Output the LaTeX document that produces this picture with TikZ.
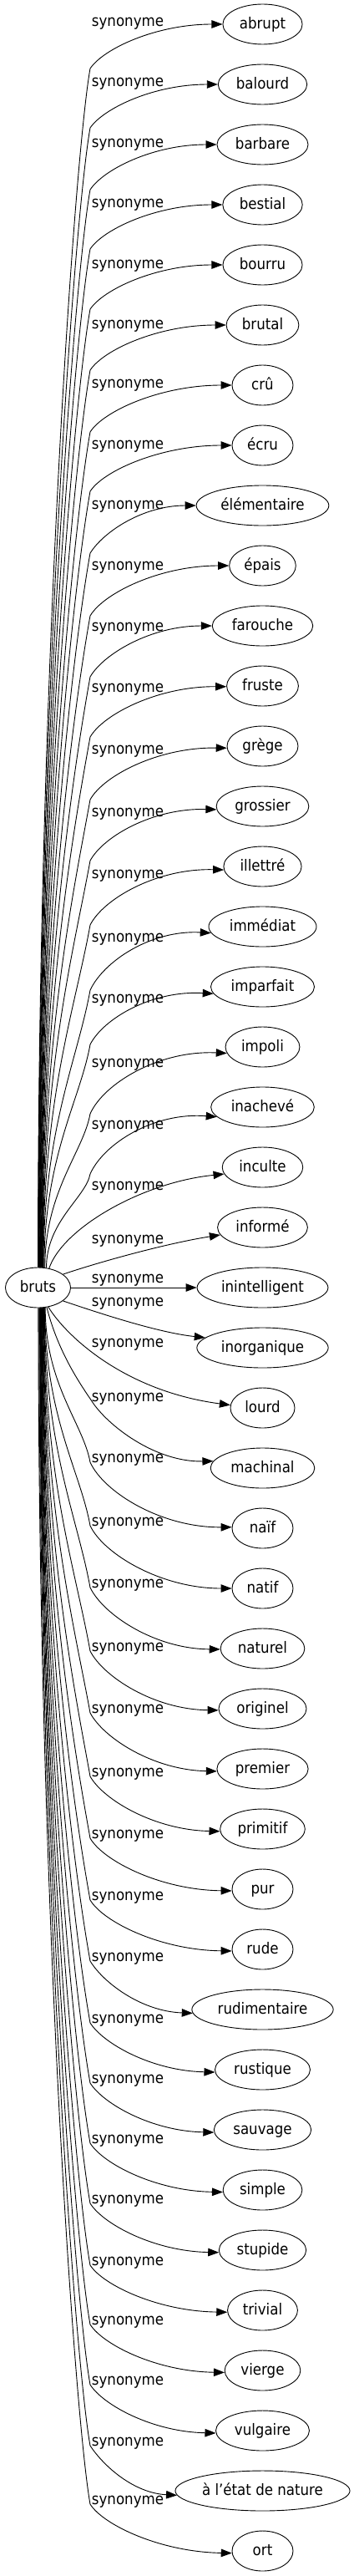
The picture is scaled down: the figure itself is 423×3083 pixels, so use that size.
\documentclass[tikz,border=0pt]{standalone}
\usepackage{fontspec}
\setmainfont{DejaVu Sans}[FakeStretch=0.9]
\usetikzlibrary{arrows.meta,calc,shapes.geometric}
\tikzset{
  gfont/.style={font=\fontsize{18.5pt}{22pt}\selectfont},
  tnode/.style={gfont, ellipse, draw, line width=0.9pt, inner xsep=6pt, inner ysep=2pt,
    minimum width=73pt, minimum height=48pt, text height=15pt, text depth=4.5pt},
  lab/.style={gfont, anchor=base, inner sep=0pt},
  link/.style={draw, line width=0.9pt, -{Triangle[length=13pt,width=9.5pt]}},
}
\begin{document}
\begin{tikzpicture}[x=1pt,y=-1pt]
\fill[white] (0,0) rectangle (423,3083);
\useasboundingbox (0,0) rectangle (423,3083);
\node[tnode] (bruts) at (45.5,1541) {bruts};
\foreach \txt/\xs [count=\i] in {abrupt/6, balourd/6, barbare/6, bestial/6, bourru/6, brutal/6, crû/6, écru/6, élémentaire/6, épais/6, farouche/6, fruste/6, grège/6, grossier/6, illettré/6, immédiat/6, imparfait/6, impoli/6, inachevé/6, inculte/6, informé/6, inintelligent/6, inorganique/6, lourd/6, machinal/6, naïf/6, natif/6, naturel/6, originel/6, premier/6, primitif/6, pur/6, rude/6, rudimentaire/6, rustique/6, sauvage/6, simple/6, stupide/6, trivial/6, vierge/6, vulgaire/6, à l'état de nature/1.5, ort/6}{
  \node[tnode, inner xsep=\xs pt] (t\i) at (314.5,{29+72*(\i-1)}) {\txt};
}
\foreach \ly [count=\i] in {27,99,171,243,316,388,459,532,604,677,750,823,897,972,1046,1122,1195,1272,1346,1419,1483,1530,1558,1607,1672,1745,1821,1895,1971,2045,2121,2195,2269,2342,2416,2488,2560,2632,2706,2777,2849,2922,2992}{
  \node[lab] (l\i) at (153,{\ly+5}) {synonyme};
}
% upper edges
\foreach \nm/\ang/\bend/\tyy/\ea in {1/90/82/29/180, 2/89/153/101/180, 3/88/227/173/180, 4/87/298/245/180, 5/86/370/317/180, 6/85/443/389/180, 7/84/517/461/180, 8/83/588/533/180, 9/82/662/605/180, 10/81/737/677/180, 11/80/810/749/180, 12/79/882/821/181, 13/78/957/893/183, 14/77/1030/965/184, 15/76/1107/1037/185, 16/75/1185/1109/187, 17/73/1250/1181/188, 18/71/1333/1253/190, 19/67/1405/1325/192}{
  \pgfmathsetmacro\len{1517-\bend}
  \pgfmathsetmacro\mm{min(100,0.25*\len)}
  \pgfmathsetmacro\cx{108-0.18*\mm}
  \pgfmathsetmacro\cy{\bend+\mm}
  \pgfmathsetmacro\dy{0.55*\bend+0.45*\tyy}
  \draw[link] (bruts.\ang) .. controls ($(bruts.\ang)+(0,{-\len/2})$) and (\cx,\cy) .. (108,\bend)
     .. controls (124,\dy) and ($(t\nm.\ea)!0.5!(108,\tyy)$) .. (t\nm.\ea);
}
% middle edges
\draw[link] (bruts.60) .. controls (75,1470) and (170,1415) .. (t20.190);
\draw[link] (bruts.28) .. controls (120,1510) and (200,1488) .. (t21.190);
\draw[link] (bruts.east) -- (t22.west);
\draw[link] (bruts.-28) .. controls (120,1572) and (190,1595) .. (t23.170);
\draw[link] (bruts.-62) .. controls (80,1600) and (150,1665) .. (t24.175);
\draw[link] (bruts.-66) .. controls (70,1620) and (98,1659) .. (110,1677) .. controls (128,1705) and (185,1750) .. (t25.172);
% lower edges
\foreach \nm/\ang/\bend/\tyy/\ea in {26/-70/1750/1829/178, 27/-71/1826/1901/180, 28/-72/1900/1973/181, 29/-73/1976/2045/182, 30/-74/2050/2117/183, 31/-75/2126/2189/183, 32/-76/2200/2261/183, 33/-77/2274/2333/183, 34/-78/2347/2405/183, 35/-79/2421/2477/183, 36/-80/2493/2549/183, 37/-81/2565/2621/183, 38/-82/2637/2693/183, 39/-83/2711/2765/183, 40/-84/2782/2837/183, 41/-85/2854/2909/183, 42/-87/2927/2981/183, 43/-89/2997/3053/184}{
  \pgfmathsetmacro\len{\bend-1565}
  \pgfmathsetmacro\mm{min(100,0.25*\len)}
  \pgfmathsetmacro\cx{108-0.18*\mm}
  \pgfmathsetmacro\cy{\bend-\mm}
  \pgfmathsetmacro\dy{0.55*\bend+0.45*\tyy}
  \draw[link] (bruts.\ang) .. controls ($(bruts.\ang)+(0,{\len/2})$) and (\cx,\cy) .. (108,\bend)
     .. controls (124,\dy) and ($(t\nm.\ea)!0.5!(108,\tyy)$) .. (t\nm.\ea);
}
\end{tikzpicture}
\end{document}
